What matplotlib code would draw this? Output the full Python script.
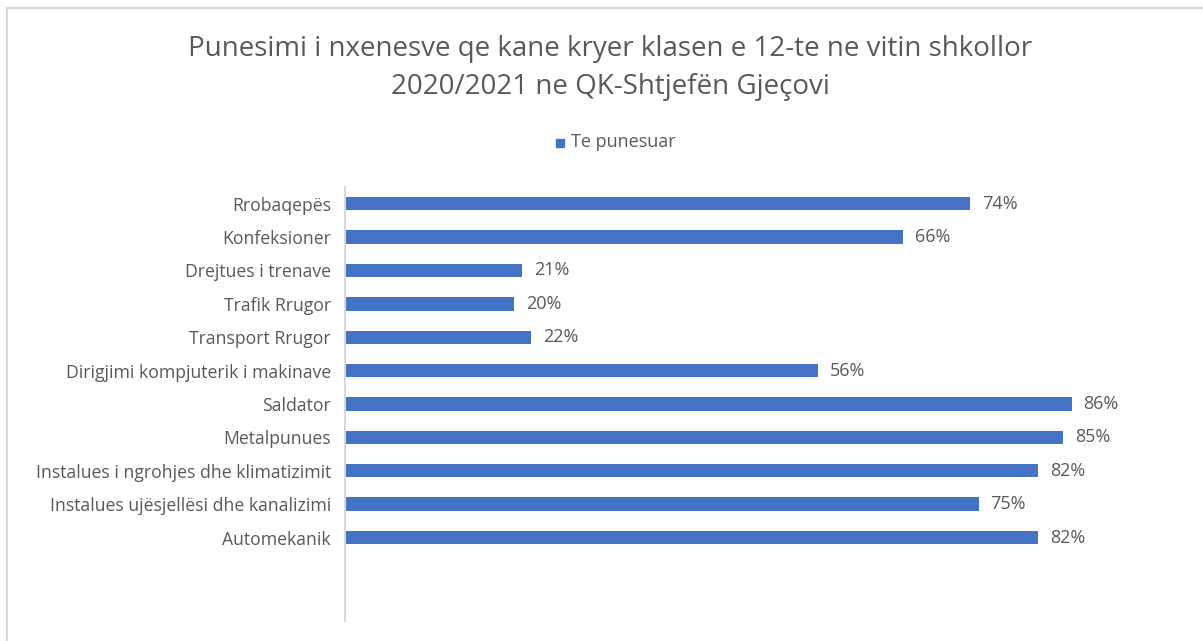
import matplotlib
matplotlib.use('Agg')
import matplotlib.pyplot as plt
from matplotlib.patches import Rectangle

categories = ["Rrobaqepës", "Konfeksioner", "Drejtues i trenave", "Trafik Rrugor",
              "Transport Rrugor", "Dirigjimi kompjuterik i makinave", "Saldator",
              "Metalpunues", "Instalues i ngrohjes dhe klimatizimit",
              "Instalues ujësjellësi dhe kanalizimi", "Automekanik"]
values = [0.74, 0.66, 0.21, 0.20, 0.22, 0.56, 0.86, 0.85, 0.82, 0.75, 0.82]
series_name = "Te punesuar"
title = "Punesimi i nxenesve qe kane kryer klasen e 12-te ne vitin shkollor\n2020/2021 ne QK-Shtjefën Gjeçovi"

blue = '#4472C4'
grey = '#595959'
plt.rcParams['font.family'] = ['Open Sans', 'DejaVu Sans']

W, H = 1203, 641
fig = plt.figure(figsize=(W / 100, H / 100), dpi=100)

# chart frame (cut off on the right / bottom like the screenshot)
fig.patches.append(Rectangle((7 / W, -0.05), 1.1, 1 - 8 / H + 0.05, transform=fig.transFigure,
                             fill=False, edgecolor='#d9d9d9', linewidth=1.5))

ax = fig.add_axes([345 / W, 1 - 621 / H, (1190 - 345) / W, (621 - 187) / H])
pos = list(range(len(categories)))
ax.barh(pos, values, height=0.4, color=blue)
ax.set_xlim(0, 1)
ax.set_ylim(12.5, -0.5)
ax.set_yticks(pos)
ax.set_yticklabels(categories, fontsize=12.7, color=grey)
ax.tick_params(axis='y', length=0, pad=10)
ax.set_xticks([])
for s in ['top', 'right', 'bottom']:
    ax.spines[s].set_visible(False)
ax.spines['left'].set_color('#d9d9d9')
ax.spines['left'].set_linewidth(1.5)

for p, v in zip(pos, values):
    ax.text(v + 0.014, p, f"{round(v * 100)}%", va='center', ha='left', fontsize=13, color=grey)

fig.text(610 / W, 1 - 68 / H, title, ha='center', va='center', fontsize=20, color=grey,
         linespacing=1.45)

# legend
fig.patches.append(Rectangle((556 / W, 1 - 147 / H), 8 / W, 8 / H, transform=fig.transFigure,
                             color=blue))
fig.text(571 / W, 1 - 142 / H, series_name, ha='left', va='center', fontsize=13, color=grey)

fig.savefig('out.png', dpi=100)
